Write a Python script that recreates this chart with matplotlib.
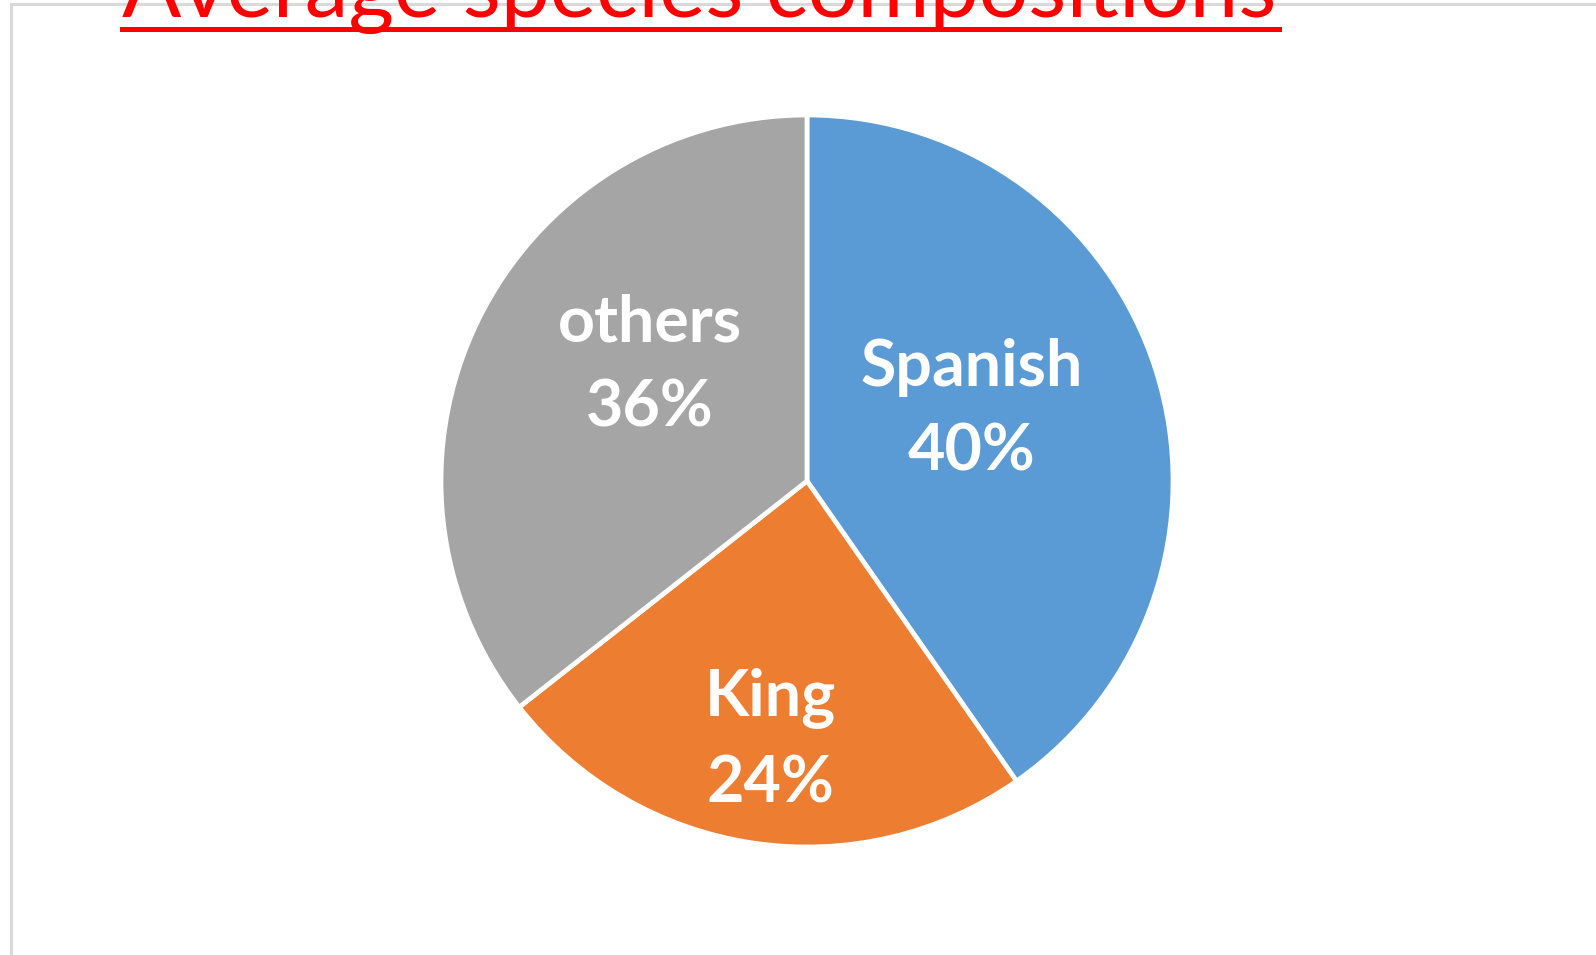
import matplotlib
matplotlib.use("Agg")
import matplotlib.pyplot as plt
from matplotlib.lines import Line2D

# data
labels = ["Spanish", "King", "others"]
shares = [40.3, 24.1, 35.6]
colors = ["#5B9BD5", "#ED7D31", "#A5A5A5"]
title = "Average species compositions"

# label anchor points inside the pie (unit radius)
label_pos = [(0.451, 0.194), (-0.101, -0.71), (-0.429, 0.315)]

W, H = 1596, 955
fig = plt.figure(figsize=(W / 100, H / 100), dpi=100)
fig.patch.set_facecolor("white")

# light grey chart border (cropped at right/bottom)
border = dict(color="#D9D9D9", lw=2.2, transform=fig.transFigure)
fig.add_artist(Line2D([11 / W, 11 / W], [0, 1 - 4 / H], **border))
fig.add_artist(Line2D([11 / W, 1], [1 - 4 / H, 1 - 4 / H], **border))

cx, cy, r = 807, 481, 366
ax = fig.add_axes([(cx - r) / W, (H - cy - r) / H, 2 * r / W, 2 * r / H])
wedges, _ = ax.pie(shares, colors=colors, startangle=90, counterclock=False,
                   radius=1, wedgeprops=dict(edgecolor="white", linewidth=3.4))
ax.set_xlim(-1, 1)
ax.set_ylim(-1, 1)
ax.axis("off")

txts = []
for lab, val, (x, y) in zip(labels, shares, label_pos):
    t = ax.text(x, y, f"{lab}\n{round(val)}%", ha="center", va="center",
                color="white", fontsize=40, fontweight="bold",
                family="Lato", linespacing=1.5)
    txts.append(t)

# title, cut off at top as in the source
tt = fig.text(122 / W, 1 - 17 / H, title, color="#FF0000", fontsize=60,
              family="Lato", ha="left", va="baseline")

fig.canvas.draw()
rend = fig.canvas.get_renderer()
w = tt.get_window_extent(rend).width
tt.set_fontsize(60 * 1157 / w)
sw = txts[0].get_window_extent(rend).width
fs = 40 * 222 / sw
for t in txts:
    t.set_fontsize(fs)
    # baseline gap of about 86 px between the two lines
    t.set_linespacing(99 / (fs * 100 / 72))

fig.add_artist(Line2D([122 / W, 1279 / W], [1 - 29.5 / H, 1 - 29.5 / H],
                      color="#FF0000", lw=3.6, transform=fig.transFigure))

fig.savefig("out.png", dpi=100)
